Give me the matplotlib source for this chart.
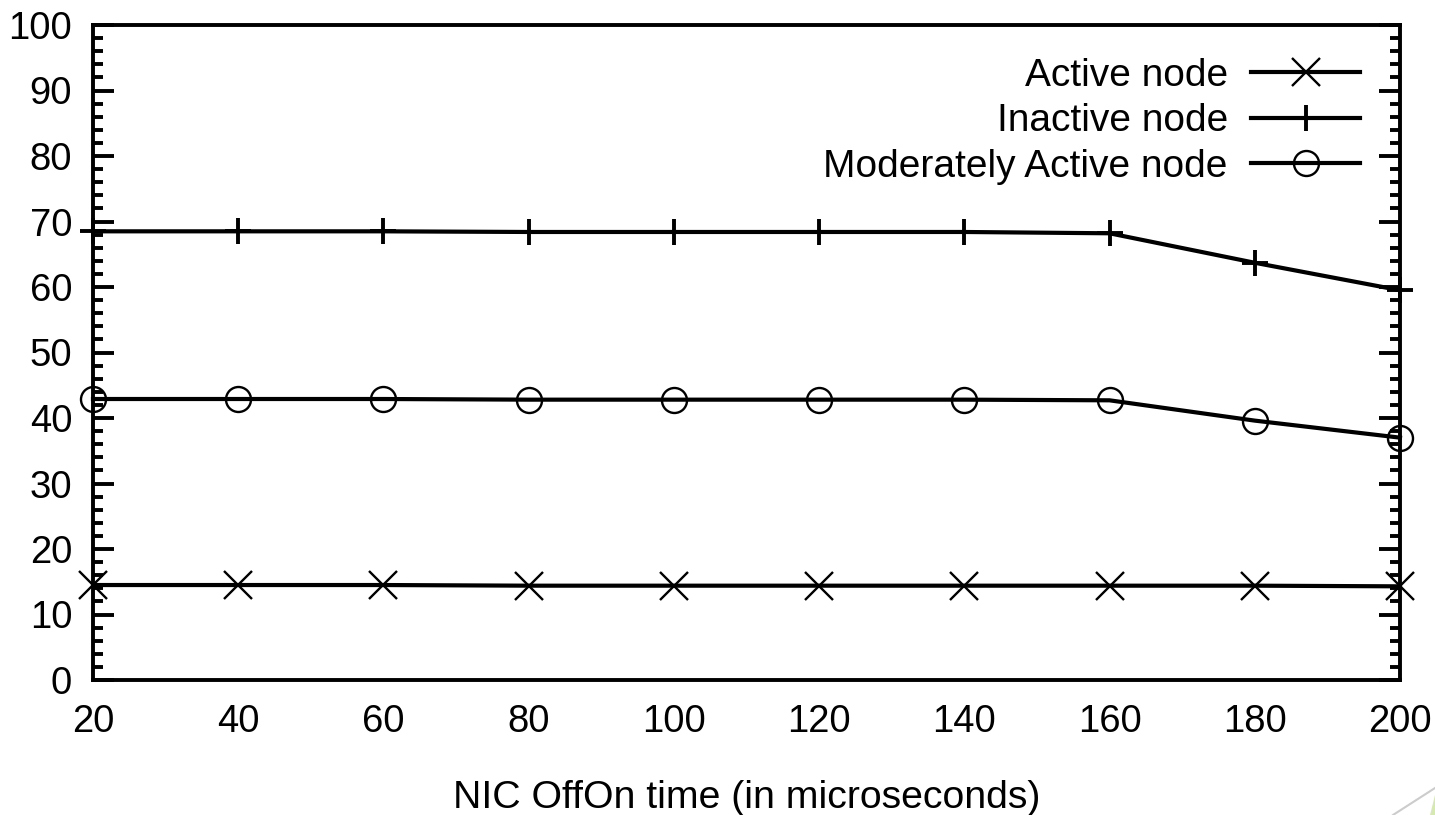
import matplotlib
matplotlib.use("Agg")
import matplotlib.pyplot as plt
from matplotlib.ticker import MultipleLocator
from matplotlib.lines import Line2D
from matplotlib.patches import Polygon

x_vals = [20, 40, 60, 80, 100, 120, 140, 160, 180, 200]
active = [14.5, 14.5, 14.5, 14.4, 14.4, 14.4, 14.4, 14.4, 14.4, 14.3]
inactive = [68.5, 68.5, 68.5, 68.4, 68.4, 68.4, 68.4, 68.2, 63.7, 59.5]
moderate = [42.9, 42.9, 42.9, 42.8, 42.8, 42.8, 42.8, 42.7, 39.6, 37.0]
labels = ["Active node", "Inactive node", "Moderately Active node"]
x_ticks = [20, 40, 60, 80, 100, 120, 140, 160, 180, 200]
y_ticks = [0, 10, 20, 30, 40, 50, 60, 70, 80, 90, 100]

plt.rcParams['font.family'] = ['Liberation Sans', 'DejaVu Sans']

fig = plt.figure(figsize=(14.35, 8.15), dpi=100)
ax = fig.add_axes([93/1435, 1-680/815, (1400-93)/1435, (680-25)/815])

lw = 3.0
ax.plot(x_vals, active, color='black', lw=lw, marker='x', ms=20, mew=1.7,
        label=labels[0], clip_on=False, zorder=3)
ax.plot(x_vals, inactive, color='black', lw=lw, marker='+', ms=19, mew=2.8,
        label=labels[1], clip_on=False, zorder=3)
ax.plot(x_vals, moderate, color='black', lw=lw, marker='o', ms=18, mew=1.7,
        mfc='none', label=labels[2], clip_on=False, zorder=3)

ax.set_xlim(20, 200)
ax.set_ylim(0, 100)
ax.set_xticks(x_ticks)
ax.set_yticks(y_ticks)
ax.yaxis.set_minor_locator(MultipleLocator(2))
ax.tick_params(axis='y', which='major', direction='in', length=15, width=2.8,
               left=True, right=True, labelsize=27.5, pad=15)
ax.tick_params(axis='y', which='minor', direction='in', length=7, width=2.8,
               left=True, right=True)
ax.tick_params(axis='x', which='both', length=0, labelsize=27.5, pad=17)
for s in ax.spines.values():
    s.set_linewidth(2.8)
    s.set_color('black')

ax.set_xlabel("NIC OffOn time (in microseconds)", fontsize=28.3, labelpad=29)

leg = ax.legend(loc='upper right', bbox_to_anchor=(0.9813, 0.974), frameon=False,
                markerfirst=False, fontsize=28, handlelength=2.8,
                handletextpad=0.6, labelspacing=0.25, borderaxespad=0)

# slide decoration in bottom-right corner
fig.add_artist(Line2D([1393/1435, 1.0], [0.0, 1-788/815], transform=fig.transFigure,
                      color='#cccccc', lw=1.5))
fig.add_artist(Polygon([[1430/1435, 0.0], [1.0, 1-795/815], [1.0, 0.0]],
                       closed=True, transform=fig.transFigure,
                       facecolor='#d6e9b0', edgecolor='none'))

fig.savefig("out.png", dpi=100)
